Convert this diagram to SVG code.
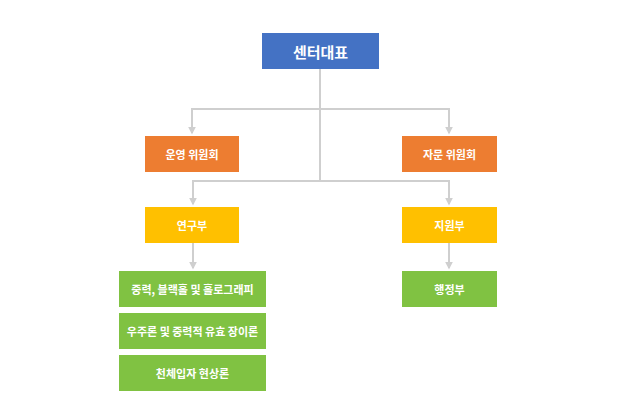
<svg xmlns="http://www.w3.org/2000/svg" width="640" height="410" viewBox="0 0 640 410">
<style>
.t{font-family:"Noto Sans CJK KR","Noto Sans",sans-serif;fill:#fff;font-weight:bold;text-anchor:middle;dominant-baseline:central}
.s{font-size:11px}
.c{fill:none;stroke:#cfcfcf;stroke-width:2}
</style>
<defs>
<marker id="a" viewBox="0 0 10 10" refX="8" refY="5" markerWidth="4" markerHeight="4" orient="auto">
<path d="M0,0L10,5L0,10z" fill="#cfcfcf"/>
</marker>
</defs>
<rect width="640" height="410" fill="#fff"/>
<g id="connectors">
<path class="c" d="M320,69V181"/>
<path class="c" d="M320,109H192V133" marker-end="url(#a)"/>
<path class="c" d="M320,109H449V133" marker-end="url(#a)"/>
<path class="c" d="M320,181H193V204" marker-end="url(#a)"/>
<path class="c" d="M320,181H449V204" marker-end="url(#a)"/>
<path class="c" d="M193,243V268" marker-end="url(#a)"/>
<path class="c" d="M449,243V268" marker-end="url(#a)"/>
</g>
<g id="n1"><rect x="262" y="33" width="117" height="36" fill="#4472C4"/><text class="t" x="320.5" y="51" font-size="15">센터대표</text></g>
<g id="n2"><rect x="145" y="136" width="94" height="36" fill="#ED7D31"/><text class="t s" x="192" y="154">운영 위원회</text></g>
<g id="n3"><rect x="402" y="136" width="95" height="36" fill="#ED7D31"/><text class="t s" x="449.5" y="154">자문 위원회</text></g>
<g id="n4"><rect x="145" y="207" width="94" height="36" fill="#FFC000"/><text class="t s" x="192" y="225">연구부</text></g>
<g id="n5"><rect x="402" y="207" width="95" height="36" fill="#FFC000"/><text class="t s" x="449.5" y="225">지원부</text></g>
<g id="n6"><rect x="119" y="271" width="147" height="36" fill="#80C242"/><text class="t s" x="192.5" y="289">중력, 블랙홀 및 홀로그래피</text></g>
<g id="n7"><rect x="119" y="313" width="147" height="36" fill="#80C242"/><text class="t s" x="192.5" y="331">우주론 및 중력적 유효 장이론</text></g>
<g id="n8"><rect x="119" y="355" width="147" height="36" fill="#80C242"/><text class="t s" x="192.5" y="373">천체입자 현상론</text></g>
<g id="n9"><rect x="402" y="271" width="95" height="36" fill="#80C242"/><text class="t s" x="449.5" y="289">행정부</text></g>
</svg>
